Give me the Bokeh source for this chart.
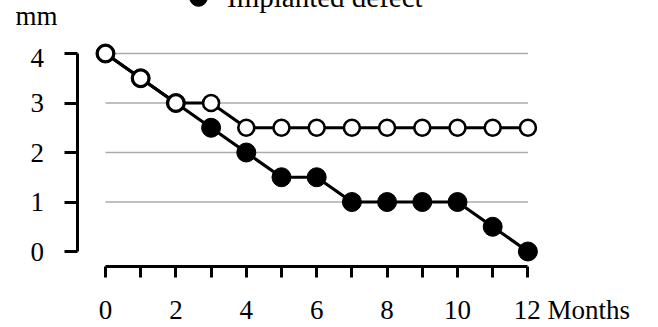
from bokeh.plotting import figure
from bokeh.models import Range1d, FixedTicker, Legend, LegendItem, ColumnDataSource
from bokeh.embed import file_html
from bokeh.resources import INLINE

# ---- data ----
months = [0, 1, 2, 3, 4, 5, 6, 7, 8, 9, 10, 11, 12]
implanted = [4, 3.5, 3, 2.5, 2, 1.5, 1.5, 1, 1, 1, 1, 0.5, 0]
control = [4, 3.5, 3, 3, 2.5, 2.5, 2.5, 2.5, 2.5, 2.5, 2.5, 2.5, 2.5]
y_ticks = [0, 1, 2, 3, 4]
grid_levels = [1, 2, 3, 4]
legend_label = "Implanted defect"
y_unit = "mm"
x_unit = "Months"

FONT = "Liberation Serif"
NB = "\u00a0"

# tick labels (units are attached to the last tick label so they render outside the frame)
y_tick_labels = {}
for t in y_ticks:
    lab = str(t) + NB * 2
    if t == max(y_ticks):
        lab = y_unit + "\n" + lab + "\n" + NB
    y_tick_labels[t] = lab
x_tick_labels = {}
for m in months:
    if m % 2:
        x_tick_labels[m] = ""
    elif m == max(months):
        x_tick_labels[m] = NB * 13 + str(m) + " " + x_unit
    else:
        x_tick_labels[m] = str(m)

p = figure(width=658, height=327, output_backend="svg", toolbar_location=None,
           x_range=Range1d(-0.795, 15.71), y_range=Range1d(-0.303, 5.071),
           min_border_left=77, min_border_bottom=61, min_border_top=0, min_border_right=0)
p.outline_line_color = None
p.xgrid.visible = False
p.ygrid.visible = False
p.background_fill_color = "white"
p.border_fill_color = "white"

# y axis
ya = p.yaxis[0]
ya.ticker = FixedTicker(ticks=y_ticks)
ya.bounds = (min(y_ticks), max(y_ticks))
ya.major_label_overrides = y_tick_labels
ya.axis_line_width = 3
ya.axis_line_color = "black"
ya.major_tick_line_width = 3
ya.major_tick_line_color = "black"
ya.major_tick_out = 13
ya.major_tick_in = 0
ya.minor_tick_out = 0
ya.minor_tick_in = 0
ya.major_label_text_font = FONT
ya.major_label_text_font_size = "27px"
ya.major_label_text_line_height = 1.4
ya.major_label_text_color = "black"
ya.major_label_standoff = 7

# x axis
xa = p.xaxis[0]
xa.ticker = FixedTicker(ticks=months)
xa.bounds = (min(months), max(months))
xa.major_label_overrides = x_tick_labels
xa.axis_line_width = 3
xa.axis_line_color = "black"
xa.major_tick_line_width = 3
xa.major_tick_line_color = "black"
xa.major_tick_out = 11
xa.major_tick_in = 0
xa.minor_tick_out = 0
xa.minor_tick_in = 0
xa.major_label_text_font = FONT
xa.major_label_text_font_size = "27px"
xa.major_label_text_color = "black"
xa.major_label_standoff = 17

# horizontal reference lines
gsrc = ColumnDataSource(dict(x0=[months[0]] * len(grid_levels), x1=[months[-1]] * len(grid_levels),
                             y=grid_levels))
p.segment(x0="x0", x1="x1", y0="y", y1="y", source=gsrc, line_color="#ababab", line_width=1.3)

# series
l_imp = p.line(months, implanted, line_color="black", line_width=3.2)
l_ctl = p.line(months, control, line_color="black", line_width=3.2)
s_imp = p.scatter(months, implanted, size=19, fill_color="black", line_color="black", line_width=1)
s_ctl = p.scatter(months, control, size=16, fill_color="white", line_color="black", line_width=2.6)

legend = Legend(items=[LegendItem(label=legend_label, renderers=[l_imp, s_imp])],
                location=(99, 245), padding=0, margin=0, spacing=0,
                glyph_width=44, glyph_height=48, label_standoff=7,
                label_text_font=FONT, label_text_font_size="29px", label_text_color="black",
                border_line_color=None, background_fill_alpha=0)
p.add_layout(legend)

open("out.html", "w").write(file_html(p, INLINE))
